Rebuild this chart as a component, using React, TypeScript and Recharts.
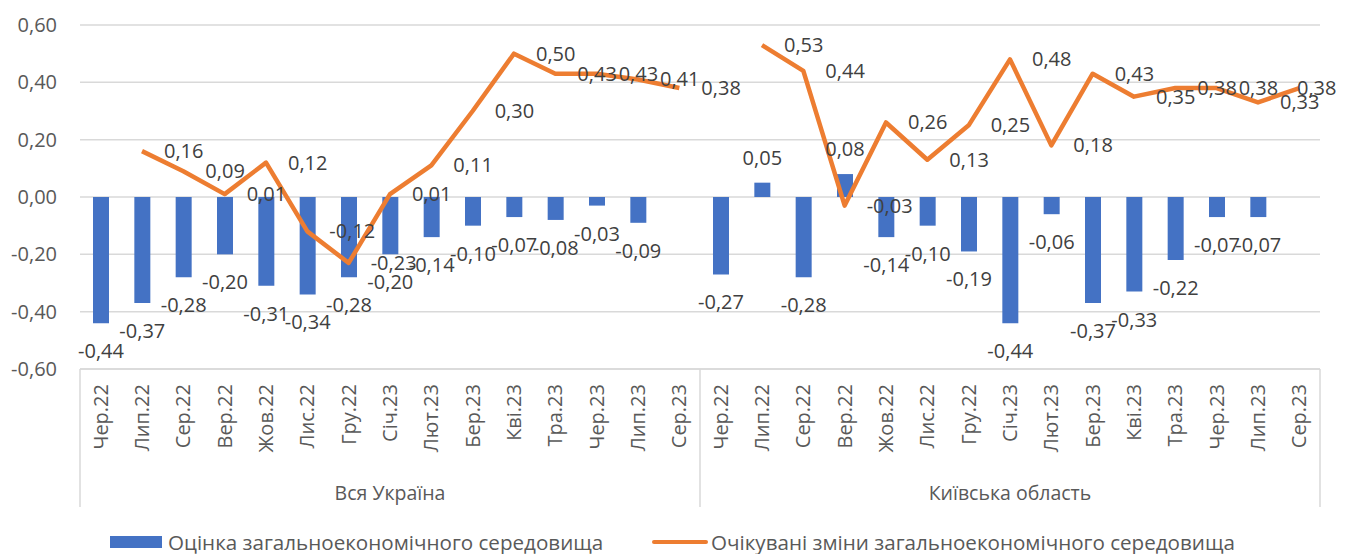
import {
  ComposedChart,
  Bar,
  Line,
  XAxis,
  YAxis,
  CartesianGrid,
  Legend,
  LabelList,
} from "recharts";

const months = [
  "Чер.22", "Лип.22", "Сер.22", "Вер.22", "Жов.22", "Лис.22", "Гру.22", "Січ.23",
  "Лют.23", "Бер.23", "Кві.23", "Тра.23", "Чер.23", "Лип.23", "Сер.23",
];
const groups = ["Вся Україна", "Київська область"];

// Оцінка загальноекономічного середовища
const ukraineAssessment = [-0.44, -0.37, -0.28, -0.2, -0.31, -0.34, -0.28, -0.2, -0.14, -0.1, -0.07, -0.08, -0.03, -0.09, null];
const kyivAssessment = [-0.27, 0.05, -0.28, 0.08, -0.14, -0.1, -0.19, -0.44, -0.06, -0.37, -0.33, -0.22, -0.07, -0.07, null];

// Очікувані зміни загальноекономічного середовища
const ukraineExpected = [null, 0.16, 0.09, 0.01, 0.12, -0.12, -0.23, 0.01, 0.11, 0.3, 0.5, 0.43, 0.43, 0.41, 0.38];
const kyivExpected = [null, 0.53, 0.44, -0.03, 0.26, 0.13, 0.25, 0.48, 0.18, 0.43, 0.35, 0.38, 0.38, 0.33, 0.38];

const yTicks = [-0.6, -0.4, -0.2, 0, 0.2, 0.4, 0.6];

const seriesNames = [
  "Оцінка загальноекономічного середовища",
  "Очікувані зміни загальноекономічного середовища",
];

const data = [
  ...months.map((m, i) => ({ key: `0|${m}`, assessment: ukraineAssessment[i], expected: ukraineExpected[i] })),
  ...months.map((m, i) => ({ key: `1|${m}`, assessment: kyivAssessment[i], expected: kyivExpected[i] })),
];

const W = 1357;
const H = 554;
const LEFT = 80;
const RIGHT = 37;
const BAND = (W - LEFT - RIGHT) / data.length;
const AXIS_Y = 369;
const LEGEND_H = 30;
const FONT = '"Open Sans", sans-serif';

const fmt = (v: number) => v.toFixed(2).replace(".", ",");

const CategoryTick = (props: any) => {
  const { x, payload } = props;
  const [g, month] = String(payload.value).split("|");
  const mi = months.indexOf(month);
  const gi = Number(g);
  return (
    <g>
      <text
        x={x}
        y={384}
        transform={`rotate(-90, ${x}, 384)`}
        textAnchor="end"
        dy="0.35em"
        fill="#595959"
        fontSize={20}
      >
        {month}
      </text>
      {mi === 0 && (
        <line x1={x - BAND / 2} x2={x - BAND / 2} y1={AXIS_Y} y2={507} stroke="#d9d9d9" strokeWidth={1.5} />
      )}
      {mi === months.length - 1 && gi === groups.length - 1 && (
        <line x1={x + BAND / 2} x2={x + BAND / 2} y1={AXIS_Y} y2={507} stroke="#d9d9d9" strokeWidth={1.5} />
      )}
      {mi === 7 && (
        <text x={x} y={493} dy="0.35em" textAnchor="middle" fill="#595959" fontSize={19.5}>
          {groups[gi]}
        </text>
      )}
    </g>
  );
};

const BarValue = (props: any) => {
  const { x, y, width, height, value } = props;
  if (value == null) return null;
  const top = Math.min(y, y + height);
  const bottom = Math.max(y, y + height);
  const ly = value < 0 ? bottom + 28 : top - 25;
  return (
    <text x={x + width / 2} y={ly} dy="0.35em" textAnchor="middle" fill="#404040" fontSize={20}>
      {fmt(value)}
    </text>
  );
};

const LineValue = (props: any) => {
  const { x, y, value } = props;
  if (value == null) return null;
  const lx = Math.min(x + 22, W - 60);
  return (
    <text x={lx} y={y} dy="0.35em" textAnchor="start" fill="#404040" fontSize={20}>
      {fmt(value)}
    </text>
  );
};

const LegendContent = () => (
  <div style={{ position: "relative", width: W, height: LEGEND_H, fontFamily: FONT, fontSize: 20.6, color: "#595959" }}>
    <div style={{ position: "absolute", left: 110, top: 12, width: 52, height: 12, background: "#4472C4" }} />
    <span style={{ position: "absolute", left: 168, top: 6, lineHeight: "24px", whiteSpace: "nowrap" }}>{seriesNames[0]}</span>
    <div style={{ position: "absolute", left: 652, top: 16, width: 56, height: 4, borderRadius: 2, background: "#ED7D31" }} />
    <span style={{ position: "absolute", left: 711, top: 6, lineHeight: "24px", whiteSpace: "nowrap" }}>{seriesNames[1]}</span>
  </div>
);

export default function App() {
  return (
    <div style={{ width: W, height: H, background: "#fff", fontFamily: FONT }}>
      <style>{"body{margin:0}"}</style>
      <ComposedChart
        width={W}
        height={H}
        data={data}
        margin={{ top: 25, right: RIGHT, left: 0, bottom: 0 }}
        barCategoryGap={0}
      >
        <CartesianGrid vertical={false} stroke="#d9d9d9" strokeWidth={1.5} />
        <XAxis
          dataKey="key"
          interval={0}
          height={H - AXIS_Y - LEGEND_H}
          tick={<CategoryTick />}
          tickLine={false}
          axisLine={{ stroke: "#d9d9d9", strokeWidth: 1.5 }}
        />
        <YAxis
          domain={[-0.6, 0.6]}
          ticks={yTicks}
          tickFormatter={fmt}
          width={LEFT}
          axisLine={false}
          tickLine={false}
          tickSize={0}
          tickMargin={23}
          tick={{ fill: "#595959", fontSize: 20 }}
        />
        <Legend
          verticalAlign="bottom"
          content={<LegendContent />}
          wrapperStyle={{ left: 0, bottom: 0, width: W, height: LEGEND_H }}
        />
        <Bar dataKey="assessment" name={seriesNames[0]} fill="#4472C4" barSize={16} isAnimationActive={false}>
          <LabelList dataKey="assessment" content={<BarValue />} />
        </Bar>
        <Line
          dataKey="expected"
          name={seriesNames[1]}
          stroke="#ED7D31"
          strokeWidth={4.5}
          strokeLinejoin="round"
          dot={false}
          activeDot={false}
          connectNulls={false}
          isAnimationActive={false}
        >
          <LabelList dataKey="expected" content={<LineValue />} />
        </Line>
      </ComposedChart>
    </div>
  );
}
